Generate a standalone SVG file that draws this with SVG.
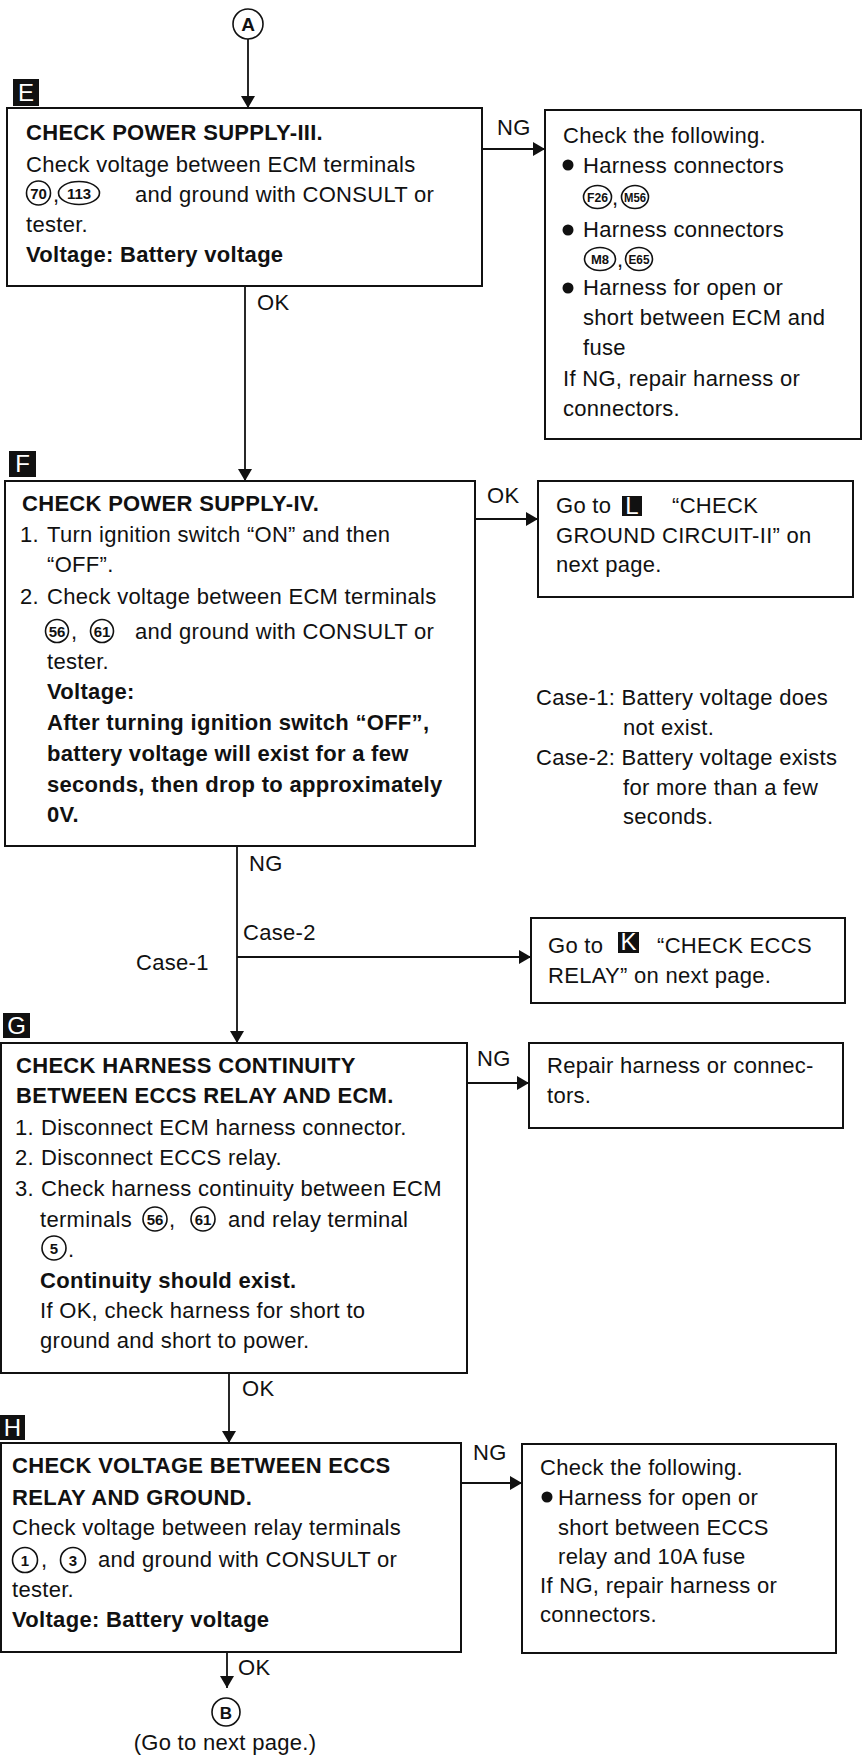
<svg xmlns="http://www.w3.org/2000/svg" width="866" height="1759" viewBox="0 0 866 1759">
<style>
.box{fill:#fff;stroke:#111;stroke-width:2}
.t{font-family:"Liberation Sans",Arial,sans-serif;font-size:22px;letter-spacing:0.3px;fill:#111}
.b{font-weight:bold}
.sq{fill:#111}
.sqt{font-family:"Liberation Sans",Arial,sans-serif;font-size:24px;fill:#fff;text-anchor:middle}
.tc{fill:#fff;stroke:#111;stroke-width:1.6}
.tn{font-family:"Liberation Sans",Arial,sans-serif;font-size:15px;font-weight:bold;fill:#111;text-anchor:middle}
.cn{font-family:"Liberation Sans",Arial,sans-serif;font-size:13px;font-weight:bold;fill:#111;text-anchor:middle}
.bul{fill:#111}
.conn line{stroke:#111;stroke-width:1.8}
.ar{marker-end:url(#arr)}
</style>
<defs>
<marker id="arr" markerUnits="userSpaceOnUse" markerWidth="14" markerHeight="14" refX="12" refY="7" orient="auto">
<path d="M0,0 L12,7 L0,14 z" fill="#111"/>
</marker>
</defs>
<rect width="866" height="1759" fill="#fff"/>

<g class="conn">
<line class="ar" x1="248" y1="39" x2="248" y2="108"/>
<line class="ar" x1="482" y1="149" x2="545" y2="149"/>
<line class="ar" x1="245" y1="286" x2="245" y2="481"/>
<line class="ar" x1="475" y1="519" x2="538" y2="519"/>
<line class="ar" x1="237" y1="846" x2="237" y2="1043"/>
<line class="ar" x1="237" y1="957" x2="531" y2="957"/>
<line class="ar" x1="467" y1="1083" x2="529" y2="1083"/>
<line class="ar" x1="229" y1="1373" x2="229" y2="1443"/>
<line class="ar" x1="461" y1="1483" x2="522" y2="1483"/>
<line class="ar" x1="227" y1="1652" x2="227" y2="1688"/>
<g class="t">
<text x="497" y="135">NG</text>
<text x="257" y="310">OK</text>
<text x="487" y="503">OK</text>
<text x="249" y="871">NG</text>
<text x="243" y="940">Case-2</text>
<text x="136" y="970">Case-1</text>
<text x="477" y="1066">NG</text>
<text x="242" y="1396">OK</text>
<text x="473" y="1460">NG</text>
<text x="238" y="1675">OK</text>
</g>
</g>

<g id="nodeA">
<circle class="tc" cx="248" cy="24" r="15" stroke-width="2"/>
<text x="248" y="31" font-family="Liberation Sans,Arial,sans-serif" font-size="19" font-weight="bold" text-anchor="middle" fill="#111">A</text>
</g>

<g id="nodeE">
<rect class="sq" x="13" y="79" width="26" height="27"/>
<text class="sqt" x="26" y="101">E</text>
<rect class="box" x="7" y="108" width="475" height="178"/>
<text class="t b" x="26" y="140">CHECK POWER SUPPLY-III.</text>
<text class="t" x="26" y="172">Check voltage between ECM terminals</text>
<circle class="tc" cx="38.5" cy="193" r="12"/>
<text class="tn" x="38.5" y="198.5">70</text>
<text class="t" x="53" y="202">,</text>
<ellipse class="tc" cx="79" cy="193" rx="20.5" ry="11.5"/>
<text class="tn" x="79" y="198.5">113</text>
<text class="t" x="135" y="202">and ground with CONSULT or</text>
<text class="t" x="26" y="232">tester.</text>
<text class="t b" x="26" y="262">Voltage: Battery voltage</text>
</g>

<g id="nodeE_NG">
<rect class="box" x="545" y="110" width="316" height="329"/>
<text class="t" x="563" y="143">Check the following.</text>
<circle class="bul" cx="568" cy="165" r="5.5"/>
<text class="t" x="583" y="173">Harness connectors</text>
<ellipse class="tc" cx="597.5" cy="197" rx="14" ry="11.5"/>
<text class="cn" x="597.5" y="201.5" textLength="21" lengthAdjust="spacingAndGlyphs">F26</text>
<text class="t" x="612" y="205">,</text>
<ellipse class="tc" cx="635" cy="197" rx="13.5" ry="11.5"/>
<text class="cn" x="635" y="201.5" textLength="22" lengthAdjust="spacingAndGlyphs">M56</text>
<circle class="bul" cx="568" cy="230" r="5.5"/>
<text class="t" x="583" y="237">Harness connectors</text>
<ellipse class="tc" cx="600" cy="259" rx="15.5" ry="11.5"/>
<text class="cn" x="600" y="263.5">M8</text>
<text class="t" x="617" y="267">,</text>
<ellipse class="tc" cx="639" cy="259" rx="13.5" ry="11.5"/>
<text class="cn" x="639" y="263.5" textLength="21" lengthAdjust="spacingAndGlyphs">E65</text>
<circle class="bul" cx="568" cy="288" r="5.5"/>
<text class="t" x="583" y="295">Harness for open or</text>
<text class="t" x="583" y="325">short between ECM and</text>
<text class="t" x="583" y="355">fuse</text>
<text class="t" x="563" y="386">If NG, repair harness or</text>
<text class="t" x="563" y="416">connectors.</text>
</g>

<g id="nodeF">
<rect class="sq" x="9" y="451" width="27" height="26"/>
<text class="sqt" x="22.5" y="472">F</text>
<rect class="box" x="5" y="481" width="470" height="365"/>
<text class="t b" x="22" y="511">CHECK POWER SUPPLY-IV.</text>
<text class="t" x="20" y="542">1.</text>
<text class="t" x="47" y="542">Turn ignition switch “ON” and then</text>
<text class="t" x="47" y="572">“OFF”.</text>
<text class="t" x="20" y="604">2.</text>
<text class="t" x="47" y="604">Check voltage between ECM terminals</text>
<circle class="tc" cx="57" cy="631" r="11.5"/>
<text class="tn" x="57" y="636.5">56</text>
<text class="t" x="71" y="639">,</text>
<circle class="tc" cx="102" cy="631" r="11.5"/>
<text class="tn" x="102" y="636.5">61</text>
<text class="t" x="135" y="639">and ground with CONSULT or</text>
<text class="t" x="47" y="669">tester.</text>
<text class="t b" x="47" y="699">Voltage:</text>
<text class="t b" x="47" y="730">After turning ignition switch “OFF”,</text>
<text class="t b" x="47" y="761">battery voltage will exist for a few</text>
<text class="t b" x="47" y="792">seconds, then drop to approximately</text>
<text class="t b" x="47" y="822">0V.</text>
</g>

<g id="nodeF_OK">
<rect class="box" x="538" y="481" width="315" height="116"/>
<text class="t" x="556" y="513">Go to</text>
<rect class="sq" x="622" y="496" width="20" height="20"/>
<text class="sqt" x="632" y="514" font-size="20">L</text>
<text class="t" x="672" y="513">“CHECK</text>
<text class="t" x="556" y="543">GROUND CIRCUIT-II” on</text>
<text class="t" x="556" y="572">next page.</text>
</g>

<g id="caseNote">
<text class="t" x="536" y="705">Case-1: Battery voltage does</text>
<text class="t" x="623" y="735">not exist.</text>
<text class="t" x="536" y="765">Case-2: Battery voltage exists</text>
<text class="t" x="623" y="795">for more than a few</text>
<text class="t" x="623" y="824">seconds.</text>
</g>

<g id="nodeK">
<rect class="box" x="531" y="918" width="314" height="85"/>
<text class="t" x="548" y="953">Go to</text>
<rect class="sq" x="618" y="932" width="21" height="21"/>
<text class="sqt" x="628.5" y="950" font-size="20">K</text>
<text class="t" x="657" y="953">“CHECK ECCS</text>
<text class="t" x="548" y="983">RELAY” on next page.</text>
</g>

<g id="nodeG">
<rect class="sq" x="3" y="1013" width="27" height="25"/>
<text class="sqt" x="16.5" y="1034">G</text>
<rect class="box" x="1" y="1043" width="466" height="330"/>
<text class="t b" x="16" y="1073">CHECK HARNESS CONTINUITY</text>
<text class="t b" x="16" y="1103">BETWEEN ECCS RELAY AND ECM.</text>
<text class="t" x="15" y="1135">1.</text>
<text class="t" x="41" y="1135">Disconnect ECM harness connector.</text>
<text class="t" x="15" y="1165">2.</text>
<text class="t" x="41" y="1165">Disconnect ECCS relay.</text>
<text class="t" x="15" y="1196">3.</text>
<text class="t" x="41" y="1196">Check harness continuity between ECM</text>
<text class="t" x="40" y="1227">terminals</text>
<circle class="tc" cx="155" cy="1219" r="12"/>
<text class="tn" x="155" y="1224.5">56</text>
<text class="t" x="169" y="1227">,</text>
<circle class="tc" cx="203" cy="1219" r="12"/>
<text class="tn" x="203" y="1224.5">61</text>
<text class="t" x="228" y="1227">and relay terminal</text>
<circle class="tc" cx="54" cy="1248" r="12"/>
<text class="tn" x="54" y="1253.5" font-size="16">5</text>
<text class="t" x="68" y="1257">.</text>
<text class="t b" x="40" y="1288">Continuity should exist.</text>
<text class="t" x="40" y="1318">If OK, check harness for short to</text>
<text class="t" x="40" y="1348">ground and short to power.</text>
</g>

<g id="nodeG_NG">
<rect class="box" x="529" y="1043" width="314" height="85"/>
<text class="t" x="547" y="1073">Repair harness or connec-</text>
<text class="t" x="547" y="1103">tors.</text>
</g>

<g id="nodeH">
<rect class="sq" x="0" y="1415" width="25" height="25"/>
<text class="sqt" x="12.5" y="1436">H</text>
<rect class="box" x="1" y="1443" width="460" height="209"/>
<text class="t b" x="12" y="1473">CHECK VOLTAGE BETWEEN ECCS</text>
<text class="t b" x="12" y="1505">RELAY AND GROUND.</text>
<text class="t" x="12" y="1535">Check voltage between relay terminals</text>
<circle class="tc" cx="25" cy="1560" r="12.5"/>
<text class="tn" x="25" y="1565.5" font-size="16">1</text>
<text class="t" x="41" y="1567">,</text>
<circle class="tc" cx="73" cy="1560" r="12.5"/>
<text class="tn" x="73" y="1565.5" font-size="16">3</text>
<text class="t" x="98" y="1567">and ground with CONSULT or</text>
<text class="t" x="12" y="1597">tester.</text>
<text class="t b" x="12" y="1627">Voltage: Battery voltage</text>
</g>

<g id="nodeH_NG">
<rect class="box" x="522" y="1444" width="314" height="209"/>
<text class="t" x="540" y="1475">Check the following.</text>
<circle class="bul" cx="547" cy="1497" r="5.5"/>
<text class="t" x="558" y="1505">Harness for open or</text>
<text class="t" x="558" y="1535">short between ECCS</text>
<text class="t" x="558" y="1564">relay and 10A fuse</text>
<text class="t" x="540" y="1593">If NG, repair harness or</text>
<text class="t" x="540" y="1622">connectors.</text>
</g>

<g id="nodeB">
<circle class="tc" cx="226" cy="1712" r="14" stroke-width="2"/>
<text x="226" y="1718.5" font-family="Liberation Sans,Arial,sans-serif" font-size="17" font-weight="bold" text-anchor="middle" fill="#111">B</text>
<text class="t" x="225" y="1750" text-anchor="middle">(Go to next page.)</text>
</g>
</svg>
